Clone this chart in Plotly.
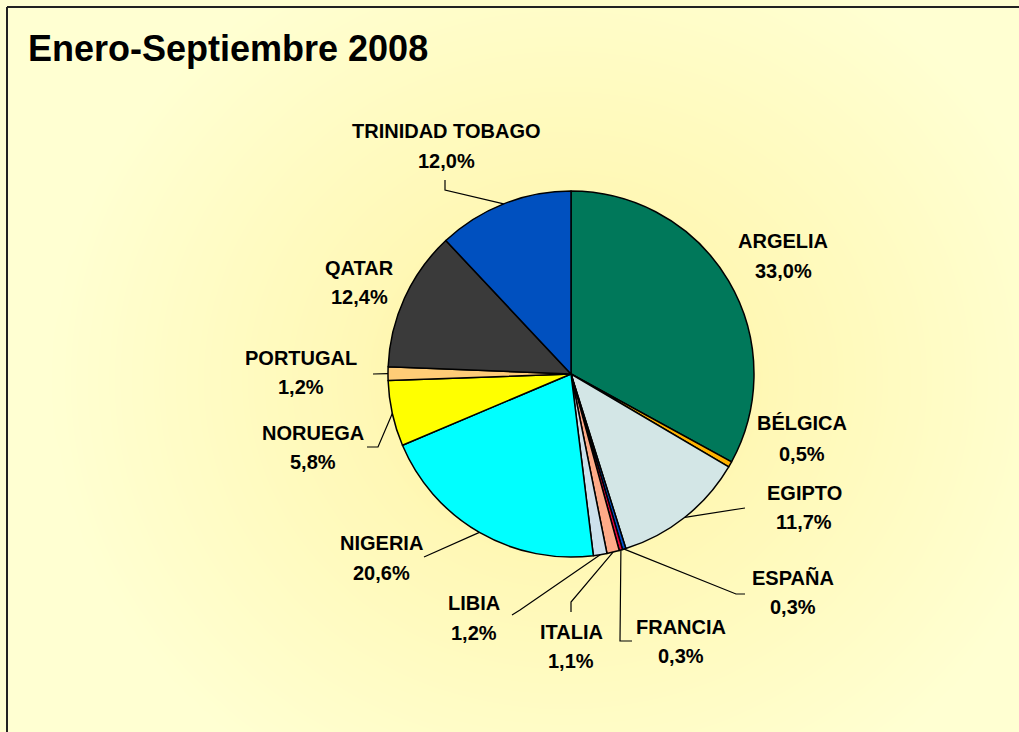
import numpy as np
import plotly.graph_objects as go

# ---- data ----
countries = ["ARGELIA", "BÉLGICA", "EGIPTO", "ESPAÑA", "FRANCIA", "ITALIA",
             "LIBIA", "NIGERIA", "NORUEGA", "PORTUGAL", "QATAR", "TRINIDAD TOBAGO"]
shares = [33.0, 0.5, 11.7, 0.3, 0.3, 1.1, 1.2, 20.6, 5.8, 1.2, 12.4, 12.0]
title_text = "Enero-Septiembre 2008"

# ---- style ----
colors = ["#00785A", "#FFB300", "#D3E6E6", "#0050C8", "#E8003C", "#FFAA88",
          "#CCE0EC", "#00FFFF", "#FFFF00", "#FFCC77", "#3A3A3A", "#0050BF"]
W, H = 1019, 732
CX, CY, R = 571, 374, 183  # pie centre / radius in pixels

# label placement (pixels): centre x, name y, pct y
label_pos = {
    "TRINIDAD TOBAGO": (446, 131, 161),
    "ARGELIA": (783, 241, 271),
    "QATAR": (359, 268, 297),
    "PORTUGAL": (301, 358, 387),
    "NORUEGA": (313, 433, 462),
    "BÉLGICA": (802, 423, 454),
    "EGIPTO": (804, 493, 522),
    "ESPAÑA": (793, 578, 607),
    "FRANCIA": (681, 627, 656),
    "ITALIA": (571, 632, 661),
    "LIBIA": (474, 603, 633),
    "NIGERIA": (381, 543, 573),
}
# leader line points on the label side (pie-edge end is computed from the data)
leader_pts = {
    "TRINIDAD TOBAGO": [(445, 180), (445, 190)],
    "PORTUGAL": [(373, 374)],
    "NORUEGA": [(367, 447), (378, 447)],
    "NIGERIA": [(424, 557)],
    "LIBIA": [(512, 615), (520, 610)],
    "ITALIA": [(571, 612), (571, 602)],
    "FRANCIA": [(632, 641), (620, 641)],
    "ESPAÑA": [(745, 594), (736, 594)],
    "EGIPTO": [(745, 508)],
}

fig = go.Figure()

# background radial gradient
gx = np.linspace(0, W, 70)
gy = np.linspace(0, H, 52)
XX, YY = np.meshgrid(gx, gy)
dist = np.sqrt(((XX - 565) / 1.1) ** 2 + (YY - 380) ** 2)
zbg = np.clip(dist / 470.0, 0, 1)
fig.add_trace(go.Heatmap(
    x=gx, y=gy, z=zbg, zsmooth="best", showscale=False, hoverinfo="skip",
    colorscale=[[0, "#FFEF95"], [0.4, "#FFF8B6"], [1, "#FFFFD2"]],
    zmin=0, zmax=1))

# pie
fig.add_trace(go.Pie(
    labels=countries, values=shares, sort=False, direction="clockwise",
    rotation=0, textinfo="none", hoverinfo="label+percent",
    marker=dict(colors=colors, line=dict(color="black", width=1.5)),
    domain=dict(x=[(CX - R) / W, (CX + R) / W],
                y=[(H - CY - R) / H, (H - CY + R) / H]),
    showlegend=False))

# leader lines and labels
total = sum(shares)
cum = 0.0
shapes = []
annotations = []
font_lbl = dict(family="Liberation Sans, Arial, sans-serif", size=20, color="black", weight="bold")
for name, val in zip(countries, shares):
    mid = (cum + val / 2) / total * 2 * np.pi
    cum += val
    ex, ey = CX + R * np.sin(mid), CY - R * np.cos(mid)
    if name in leader_pts:
        pts = leader_pts[name] + [(ex, ey)]
        path = "M " + " L ".join(f"{x:.1f},{y:.1f}" for x, y in pts)
        shapes.append(dict(type="path", path=path, xref="x", yref="y",
                           line=dict(color="black", width=1.2), layer="above"))
    lx, ny, py = label_pos[name]
    pct = f"{val:.1f}".replace(".", ",") + "%"
    annotations.append(dict(x=lx, y=ny, xref="x", yref="y", text=name,
                            showarrow=False, font=font_lbl, xanchor="center", yanchor="middle"))
    annotations.append(dict(x=lx, y=py, xref="x", yref="y", text=pct,
                            showarrow=False, font=font_lbl, xanchor="center", yanchor="middle"))

annotations.append(dict(x=26, y=48, xref="x", yref="y", text=title_text, showarrow=False,
                        font=dict(family="Liberation Sans, Arial, sans-serif", size=36,
                                  color="black", weight="bold"),
                        xanchor="left", yanchor="middle"))

# frame
shapes.append(dict(type="line", x0=7, y0=7, x1=W, y1=7, xref="x", yref="y",
                   line=dict(color="#222222", width=2), layer="above"))
shapes.append(dict(type="line", x0=7, y0=7, x1=7, y1=H, xref="x", yref="y",
                   line=dict(color="#222222", width=2), layer="above"))

fig.update_layout(
    width=W, height=H, margin=dict(l=0, r=0, t=0, b=0),
    paper_bgcolor="#FFFFD2", plot_bgcolor="#FFFFD2",
    xaxis=dict(range=[0, W], visible=False, fixedrange=True),
    yaxis=dict(range=[H, 0], visible=False, fixedrange=True),
    shapes=shapes, annotations=annotations, showlegend=False)

fig.write_html("out.html", config={"displayModeBar": False},
               post_script="document.body.style.margin='0';"
                           "document.body.style.overflow='hidden';"
                           "document.documentElement.style.overflow='hidden';")
